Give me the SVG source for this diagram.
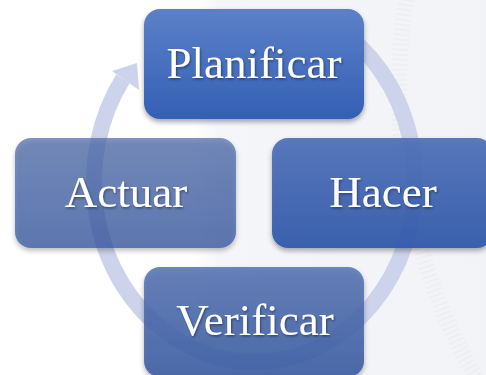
<svg xmlns="http://www.w3.org/2000/svg" width="486" height="375" viewBox="0 0 486 375">
  <defs>
    <linearGradient id="bg" x1="0" y1="0" x2="1" y2="0">
      <stop offset="0" stop-color="#ffffff"/>
      <stop offset="0.4" stop-color="#ffffff"/>
      <stop offset="0.45" stop-color="#f5f6f9"/>
      <stop offset="1" stop-color="#f2f3f6"/>
    </linearGradient>
    <linearGradient id="gP" x1="0" y1="0" x2="0" y2="1">
      <stop offset="0" stop-color="#5c80c8"/>
      <stop offset="1" stop-color="#3460b4"/>
    </linearGradient>
    <linearGradient id="gH" x1="0" y1="0" x2="0" y2="1">
      <stop offset="0" stop-color="#5070b9"/>
      <stop offset="1" stop-color="#3059aa"/>
    </linearGradient>
    <linearGradient id="gV" x1="0" y1="0" x2="0" y2="1">
      <stop offset="0" stop-color="#5572b3"/>
      <stop offset="1" stop-color="#375aa1"/>
    </linearGradient>
    <linearGradient id="gA" x1="0" y1="0" x2="0" y2="1">
      <stop offset="0" stop-color="#4c69a9"/>
      <stop offset="1" stop-color="#30529e"/>
    </linearGradient>
    <filter id="shadow" x="-10%" y="-10%" width="120%" height="130%">
      <feDropShadow dx="0" dy="3" stdDeviation="2.5" flood-color="#000" flood-opacity="0.35"/>
    </filter>
    <filter id="tshadow" x="-10%" y="-20%" width="120%" height="150%">
      <feDropShadow dx="1" dy="1.5" stdDeviation="1" flood-color="#000" flood-opacity="0.4"/>
    </filter>
  </defs>
  <style>
    .box { stroke: none; filter: url(#shadow); }
    .label { font-family: "Liberation Serif", "Times New Roman", serif; font-size: 45px; fill: #ffffff; text-anchor: middle; filter: url(#tshadow); }
    .ring { fill: none; stroke: #ccd3ea; stroke-width: 16; }
    .head { fill: #ccd3ea; }
  </style>

  <rect x="0" y="0" width="486" height="375" fill="url(#bg)"/>
  <circle cx="977" cy="90" r="578" fill="none" stroke="#e9ebf0" stroke-width="16" stroke-dasharray="2 3" opacity="0.6"/>

  <g id="connectors">
    <path class="ring" d="M 334.75 26.12 A 160.5 180 0 1 1 123.0 78.8"/>
    <polygon class="head" points="112,71 139,90 137,63"/>
  </g>

  <g id="node-hacer">
    <rect class="box" x="272" y="138" width="221" height="110" rx="16" fill="url(#gH)" fill-opacity="0.92"/>
    <text class="label" x="383" y="207">Hacer</text>
  </g>
  <g id="node-verificar">
    <rect class="box" x="144" y="267" width="220" height="110" rx="16" fill="url(#gV)" fill-opacity="0.85"/>
    <text class="label" x="255" y="335">Verificar</text>
  </g>
  <g id="node-actuar">
    <rect class="box" x="15" y="138" width="221" height="110" rx="16" fill="url(#gA)" fill-opacity="0.7"/>
    <text class="label" x="126" y="207">Actuar</text>
  </g>
  <g id="node-planificar">
    <rect class="box" x="144" y="9" width="220" height="110" rx="16" fill="url(#gP)"/>
    <text class="label" x="254" y="78">Planificar</text>
  </g>
</svg>
